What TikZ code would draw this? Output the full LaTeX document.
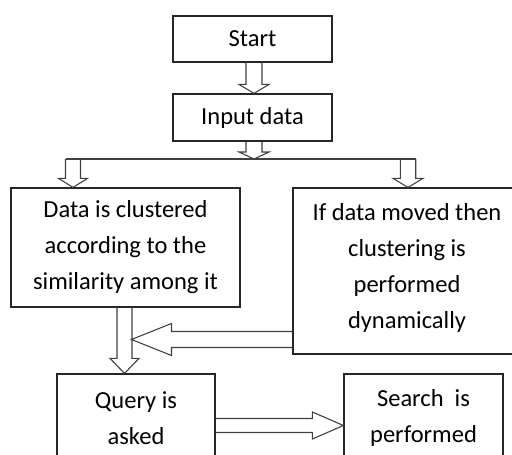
\documentclass[tikz,border=0pt]{standalone}
\usepackage{fontspec}
\setmainfont{Carlito}
\usetikzlibrary{calc}
\tikzset{
  box/.style={draw=black!85, line width=1.2pt, inner sep=0pt, align=center,
    font=\fontsize{24.5}{36}\selectfont},
  barrow/.style={draw=black!75, line width=1.1pt, line join=miter}
}
\newcommand{\bdown}[5]{\draw[barrow] ($(#2|-#1)+(-#3,0)$) -- ($(#2)+(-#3,-#5)$) -- ($(#2)+(-#4,-#5)$) -- (#2) -- ($(#2)+(#4,-#5)$) -- ($(#2)+(#3,-#5)$) -- ($(#2|-#1)+(#3,0)$);}
\newcommand{\bhoriz}[5]{\draw[barrow] ($(#1|-#2)+(0,-#3)$) -- ($(#2)+(#5,-#3)$) -- ($(#2)+(#5,-#4)$) -- (#2) -- ($(#2)+(#5,#4)$) -- ($(#2)+(#5,#3)$) -- ($(#1|-#2)+(0,#3)$);}
\begin{document}
\begin{tikzpicture}[x=1pt,y=-1pt]
\useasboundingbox (0,0) rectangle (512,455);
\clip (0,0) rectangle (512,455);
\node[box, minimum width=159pt, minimum height=46pt] (start) at (252.5,39) {Start};
\node[box, minimum width=159pt, minimum height=47pt] (input) at (252.5,117.5) {Input data};
\node[box, minimum width=229pt, minimum height=119pt] (cluster) at (125.5,247.5) {Data is clustered\\according to the\\similarity among it};
\node[box, minimum width=228pt, minimum height=166pt, text depth=11pt] (moved) at (407,271) {If data moved then\\clustering is\\performed\\dynamically};
\node[box, minimum width=158pt, minimum height=88pt] (query) at (136,418) {Query is\\asked};
\node[box, minimum width=159pt, minimum height=88pt] (search) at (423.5,418) {Search~ is\\performed};
% coordinates
\coordinate (t1) at ($(input.north)+(1.5,0)$);
\coordinate (t2) at (254,159);
\coordinate (bl) at (66,159);
\coordinate (br) at (416,159);
\coordinate (t3) at ($(cluster.north -| bl)+(7,0)$);
\coordinate (t4) at ($(moved.north -| br)+(-8,0)$);
\coordinate (t5) at ($(query.north)+(-11.5,0)$);
\coordinate (t6) at (131.5,339.5);
\coordinate (t7) at ($(search.west)+(0,7.5)$);
% arrows
\bdown{start.south}{t1}{8}{15}{9}
\bdown{input.south}{t2}{8}{15}{7}
\draw[barrow] (bl) -- (br);
\bdown{bl}{t3}{7.5}{14.5}{9}
\bdown{br}{t4}{7.7}{15}{9}
\bdown{cluster.south}{t5}{7.5}{14.5}{15}
\bhoriz{moved.west}{t6}{8}{16}{40}
\bhoriz{query.east}{t7}{7}{13.5}{-31}
\end{tikzpicture}
\end{document}
